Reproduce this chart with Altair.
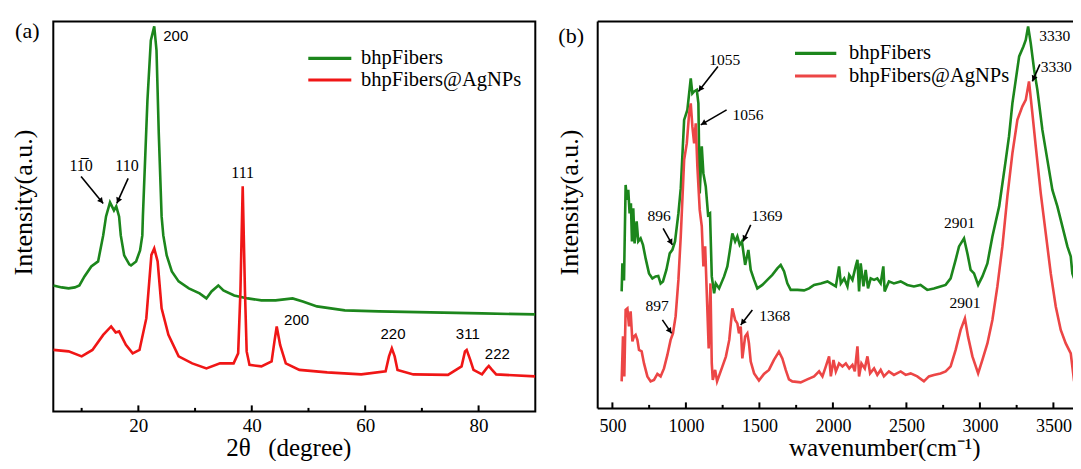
import math
import altair as alt
import pandas as pd

# ---------------- Panel (a): XRD ----------------
xrd_green_2theta = [5, 6.5, 7.7, 8.8, 9.6, 10.5, 11.7, 12.9, 13.8, 14.3, 15.0, 15.7, 16.1, 16.6, 16.9, 17.5,
                    18.4, 18.7, 19.6, 20.3, 20.7, 20.8, 21.6, 22.2, 22.8, 23.2, 23.6, 24.1, 24.4, 25.0, 25.9,
                    27.1, 28.9, 30.8, 32.0, 32.9, 34.1, 35.0, 36.9, 39.3, 41.7, 44.2, 47.2, 49.0, 51.5, 56.4,
                    62.4, 71.5, 80.6, 90]
xrd_green_int = [126, 124, 123, 124, 126, 135, 145, 150, 176, 195, 209, 201, 205, 195, 176, 156,
                 147, 146, 150, 161, 176, 195, 311, 371, 385, 361, 278, 195, 176, 156, 140,
                 130, 123, 118, 113, 120, 126, 121, 116, 113, 111, 111, 113, 110, 105, 101,
                 100, 99, 98, 97]
xrd_red_2theta = [5, 7.7, 10.0, 11.9, 13.8, 15.2, 16.0, 16.6, 17.8, 19.0, 20.2, 21.4, 22.3, 22.8, 23.4,
                  24.1, 25.3, 27.1, 29.5, 32.0, 34.4, 36.8, 37.6, 38.0, 38.4, 38.8, 39.1, 39.6, 41.7,
                  43.5, 44.0, 44.4, 45.0, 46.0, 48.4, 53.3, 59.3, 63.6, 64.2, 64.7, 65.2, 65.7, 68.5,
                  74.6, 77.0, 77.6, 77.9, 78.5, 79.1, 80.6, 81.4, 81.8, 82.3, 83.1, 90]
xrd_red_int = [61.5, 60, 55, 61.5, 76.5, 85, 79, 80, 66.5, 58, 61.5, 93, 156.5, 163, 150,
               103, 76.5, 55, 48, 43, 48, 48, 58, 120, 225, 120, 60, 46.5, 45,
               50, 70, 85, 66.5, 48, 41.5, 39, 37, 40, 55, 63, 55, 41.5, 37,
               36.5, 45, 60, 61.5, 52, 41.5, 37, 43, 45.5, 42, 37, 35]
xrd_major_ticks = [20, 40, 60, 80]
xrd_minor_ticks = [10, 30, 50, 70]
xrd_serif_labels = ["11\u03050", "110", "111"]
xrd_serif_x = [9.9, 18.0, 38.4]
xrd_serif_y = [245, 245, 238.5]
xrd_sans_labels = ["200", "200", "220", "311", "222"]
xrd_sans_x = [26.6, 47.9, 64.9, 78.1, 83.3]
xrd_sans_y = [375.5, 91.5, 77.5, 77.5, 57]
xrd_arrow_x1 = [9.9, 18.2]
xrd_arrow_y1 = [235, 233]
xrd_arrow_x2 = [13.8, 16.2]
xrd_arrow_y2 = [208, 208]

# ---------------- Panel (b): FTIR ----------------
ftir_green_wn = [563, 568, 579, 590, 599, 608, 617, 626, 633, 642, 651, 665, 676, 692, 708, 726, 749, 772, 794,
                 812, 828, 844, 867, 890, 908, 926, 949, 965, 988, 1010, 1033, 1044, 1056, 1074, 1085, 1094,
                 1108, 1119, 1135, 1151, 1164, 1176, 1192, 1203, 1226, 1260, 1282, 1298, 1316, 1335, 1350,
                 1366, 1381, 1403, 1425, 1441, 1464, 1486, 1520, 1554, 1588, 1622, 1645, 1668, 1690, 1713,
                 1759, 1804, 1838, 1872, 1918, 1963, 1997, 2020, 2042, 2054, 2077, 2099, 2111, 2133, 2155,
                 2167, 2178, 2189, 2208, 2223, 2239, 2257, 2280, 2302, 2325, 2343, 2352, 2381, 2415, 2461,
                 2506, 2551, 2596, 2642, 2687, 2732, 2767, 2801, 2835, 2858, 2892, 2915, 2937, 2960, 2988,
                 3017, 3051, 3085, 3131, 3176, 3198, 3221, 3244, 3267, 3296, 3312, 3328, 3346, 3369, 3391,
                 3425, 3459, 3493, 3527, 3561, 3595, 3618, 3629, 3652, 3670, 3720, 3800, 3900, 3990]
ftir_green_int = [117, 145, 128, 223.5, 208.5, 218.5, 195, 205, 167, 200, 165, 187, 167, 170, 163.5, 150, 135, 130, 132,
                  132.5, 125, 127, 138.5, 155, 158.5, 167, 195, 220, 288.5, 298.5, 330, 315, 317, 318.5, 305, 215,
                  262, 235, 222, 193.5, 195, 132, 115, 125, 120, 132, 142, 157, 175, 167, 172,
                  163.5, 167, 143.5, 158.5, 138.5, 128.5, 120, 123.5, 128.5, 133.5, 140, 143.5, 137, 125, 118.5,
                  118.5, 118, 120, 123.5, 125, 127, 124, 122, 142, 125, 130, 122, 133.5, 128.5, 142,
                  148.5, 117, 145, 122, 138.5, 120, 130, 128.5, 130, 125, 142, 117, 127, 125, 127,
                  123.5, 122, 123.5, 118.5, 120, 122, 123.5, 130, 148.5, 162, 170, 155, 138.5, 135, 123.5,
                  132, 145, 172, 202, 248.5, 272, 305, 328.5, 352, 362, 368.5, 382, 365, 338.5, 318.5,
                  278.5, 248.5, 218.5, 202, 182, 162, 152, 135, 125, 115, 106, 100, 97, 95]
ftir_red_wn = [563, 572, 581, 590, 602, 613, 624, 636, 647, 658, 670, 681, 699, 715, 738, 760, 783, 806, 828,
               851, 874, 896, 912, 930, 949, 965, 981, 988, 1006, 1022, 1033, 1044, 1056, 1067, 1078, 1094,
               1108, 1119, 1131, 1146, 1155, 1167, 1176, 1183, 1199, 1212, 1248, 1272, 1295, 1316, 1335,
               1350, 1361, 1373, 1384, 1403, 1418, 1429, 1441, 1464, 1497, 1531, 1565, 1599, 1633, 1656,
               1679, 1701, 1724, 1781, 1826, 1872, 1906, 1929, 1952, 1974, 1986, 2004, 2020, 2042, 2065,
               2088, 2111, 2133, 2149, 2167, 2178, 2194, 2217, 2235, 2253, 2280, 2302, 2325, 2347, 2381,
               2415, 2461, 2495, 2529, 2574, 2619, 2653, 2687, 2732, 2767, 2801, 2835, 2869, 2898, 2919,
               2949, 2988, 3017, 3051, 3085, 3119, 3153, 3187, 3221, 3255, 3289, 3312, 3334, 3357, 3380,
               3414, 3448, 3482, 3516, 3550, 3584, 3618, 3641, 3659, 3700, 3800, 3990]
ftir_red_int = [27, 72, 32, 98.5, 100, 82, 97, 67, 72, 73.5, 68.5, 58.5, 57, 45, 32, 27, 28.5, 34.5, 32,
                40, 53.5, 68.5, 75, 92, 128.5, 172, 225, 248.5, 265, 295, 305, 282, 265, 285, 242, 198.5,
                182, 142, 162, 98.5, 60, 125, 45, 28.5, 38.5, 27, 41.8, 51.8, 68.5, 100, 88.5,
                85, 75, 81.8, 50, 71.8, 75, 65, 46.8, 35, 27.8, 34.5, 38.5, 48.5, 56.8, 50,
                38.5, 29, 27, 26, 29, 32, 37, 32, 42, 52, 32, 48.5, 37, 45, 42,
                45, 40, 43.5, 37, 62, 32, 45, 40, 52, 35, 40, 33.5, 38.5, 32, 37,
                33.5, 37, 33.5, 35, 32, 27, 32, 33.5, 35, 37, 42, 58.5, 78.5, 90, 72,
                52, 35, 48.5, 65, 88.5, 122, 162, 212, 255, 288.5, 302, 308.5, 327, 295, 262,
                215, 175, 135, 102, 78.5, 65, 55, 27, 35, 30, 28, 27]
ftir_major_ticks = [500, 1000, 1500, 2000, 2500, 3000, 3500]
ftir_minor_ticks = [750, 1250, 1750, 2250, 2750, 3250]
ftir_labels = ["1055", "1056", "896", "1369", "897", "1368", "2901", "2901", "3330", "3330"]
ftir_label_x = [1265, 1422, 818, 1552, 804, 1605, 2861, 2898, 3510, 3520]
ftir_label_y = [348.5, 293.5, 192, 192, 102, 92, 185, 105, 372, 341]
ftir_arrow_x1 = [1218, 1277, 845, 1441, 840, 1452, 3408]
ftir_arrow_y1 = [342, 298.5, 180, 183.5, 88.5, 98.5, 344]
ftir_arrow_x2 = [1085, 1101, 908, 1389, 903, 1373, 3357]
ftir_arrow_y2 = [317, 283.5, 163.5, 167, 75, 83.5, 327]

series_names = ["bhpFibers", "bhpFibers@AgNPs"]

SERIF = "Liberation Serif"
SANS = "Liberation Sans"
GREEN = "#1c861c"


def panel(gx, gy, rx, ry, red, xdom, ydom, W, H, major, minor, xtitle, tx, ty, lab_pad, lab_size, ytx,
          serif_lab, sans_lab, arrows, leg, tag, tagpos, full_frame):
    sx = W / (xdom[1] - xdom[0])
    sy = H / (ydom[1] - ydom[0])
    xs = alt.Scale(domain=xdom, nice=False, zero=False)
    ys = alt.Scale(domain=ydom, nice=False, zero=False)
    xax = alt.Axis(values=major, format="d", title=xtitle, ticks=False, domain=False, grid=False,
                   labelFont=SERIF, labelFontSize=lab_size, labelColor="black", labelPadding=lab_pad,
                   titleFont=SERIF, titleFontSize=25, titleFontWeight="normal", titleColor="black",
                   titleX=tx, titleY=ty, titleAlign="center", titleBaseline="alphabetic")
    yax = alt.Axis(labels=False, ticks=False, domain=False, grid=False, title="Intensity(a.u.)",
                   titleFont=SERIF, titleFontSize=26, titleFontWeight="normal", titleColor="black",
                   titleAngle=270, titleX=ytx, titleY=180.6, titleAlign="center", titleBaseline="middle")

    def X(f="x"):
        return alt.X(f + ":Q", scale=xs, axis=xax, title=xtitle)

    def Y(f="y"):
        return alt.Y(f + ":Q", scale=ys, axis=yax, title="Intensity(a.u.)")

    dg = pd.DataFrame({"x": gx, "y": gy})
    dr = pd.DataFrame({"x": rx, "y": ry})
    g = alt.Chart(dg).mark_line(color=GREEN, strokeWidth=2.6, clip=True).encode(x=X(), y=Y())
    r = alt.Chart(dr).mark_line(color=red, strokeWidth=2.6, clip=True).encode(x=X(), y=Y())
    tick_major = alt.Chart(pd.DataFrame({"x": major})).mark_rule(color="black", strokeWidth=2).encode(
        x=X(), y=alt.value(H), y2=alt.value(H - 6))
    tick_minor = alt.Chart(pd.DataFrame({"x": minor})).mark_rule(color="black", strokeWidth=2).encode(
        x=X(), y=alt.value(H), y2=alt.value(H - 3.5))
    layers = [g, r, tick_major, tick_minor]
    for labs, font, size in [(serif_lab, SERIF, 16 if tag == "(a)" else 15.5), (sans_lab, SANS, 15)]:
        if labs is None:
            continue
        d = pd.DataFrame({"t": labs[0], "x": labs[1], "y": labs[2]})
        layers.append(alt.Chart(d).mark_text(font=font, fontSize=size, color="black", baseline="middle",
                                             clip=True).encode(x=X(), y=Y(), text="t:N"))
    x1, y1, x2, y2 = arrows
    hx, hy, ang = [], [], []
    for a, b, c, e in zip(x1, y1, x2, y2):
        dx = (c - a) * sx
        dy = -(e - b) * sy
        L = math.hypot(dx, dy)
        ux, uy = dx / L, dy / L
        hx.append(c - ux * 3.0 / sx)
        hy.append(e + uy * 3.0 / sy)
        ang.append(math.degrees(math.atan2(ux, -uy)) % 360)
    da = pd.DataFrame({"x": x1, "y": y1, "x2": x2, "y2": y2})
    layers.append(alt.Chart(da).mark_rule(color="black", strokeWidth=1.6).encode(
        x=X(), y=Y(), x2="x2:Q", y2="y2:Q"))
    dh = pd.DataFrame({"x": hx, "y": hy, "a": ang})
    layers.append(alt.Chart(dh).mark_point(shape="triangle-up", filled=True, color="black", size=40,
                                           opacity=1).encode(
        x=X(), y=Y(), angle=alt.Angle("a:Q", scale=None)))
    # legend
    lx1, lx2, ly1, ly2, ltx = leg
    for name, col, yy in [(series_names[0], GREEN, ly1), (series_names[1], red, ly2)]:
        dl = pd.DataFrame({"n": [name]})
        layers.append(alt.Chart(dl).mark_rule(color=col, strokeWidth=3.2).encode(
            x=alt.value(lx1), x2=alt.value(lx2), y=alt.value(yy)))
        layers.append(alt.Chart(dl).mark_text(font=SERIF, fontSize=20.5, color="black", align="left",
                                              baseline="middle").encode(
            x=alt.value(ltx), y=alt.value(yy), text="n:N"))
    layers.append(alt.Chart(pd.DataFrame({"n": [tag]})).mark_text(
        font=SERIF, fontSize=22, color="black", baseline="middle").encode(
        x=alt.value(tagpos[0]), y=alt.value(tagpos[1]), text="n:N"))
    if not full_frame:
        one = pd.DataFrame({"n": [0]})
        layers.append(alt.Chart(one).mark_rule(color="black", strokeWidth=2).encode(
            x=alt.value(0), x2=alt.value(W), y=alt.value(0)))
        layers.append(alt.Chart(one).mark_rule(color="black", strokeWidth=2).encode(
            x=alt.value(0), x2=alt.value(W), y=alt.value(H)))
        layers.append(alt.Chart(one).mark_rule(color="black", strokeWidth=2).encode(
            x=alt.value(0), y=alt.value(0), y2=alt.value(H)))
        return alt.layer(*layers).properties(width=W, height=H,
                                             view=alt.ViewBackground(stroke="transparent"))
    return alt.layer(*layers).properties(width=W, height=H)


pa = panel(xrd_green_2theta, xrd_green_int, xrd_red_2theta, xrd_red_int, "#f01616",
           [5, 90], [0, 390], 482, 390, xrd_major_ticks, xrd_minor_ticks,
           "2\u03b8\u2002\u2009(degree)", 235, 44.5, 5, 19, -30,
           (xrd_serif_labels, xrd_serif_x, xrd_serif_y),
           (xrd_sans_labels, xrd_sans_x, xrd_sans_y),
           (xrd_arrow_x1, xrd_arrow_y1, xrd_arrow_x2, xrd_arrow_y2),
           (255, 298, 37, 58.6, 307.7), "(a)", (-26, 9.5), True)

WB = 477
pb = panel(ftir_green_wn, ftir_green_int, ftir_red_wn, ftir_red_int, "#ec4646",
           [400, 400 + WB / 0.147], [0, 387], WB, 387, ftir_major_ticks, ftir_minor_ticks,
           "wavenumber(cm\u207b\u00b9)", 286.6, 47.5, 9, 18, -28,
           (ftir_labels, ftir_label_x, ftir_label_y), None,
           (ftir_arrow_x1, ftir_arrow_y1, ftir_arrow_x2, ftir_arrow_y2),
           (197.3, 238.6, 31.9, 54.6, 251.3), "(b)", (-26.5, 14.5), False)

PAD_L, PAD_T = 45.3, 13.4
chart = alt.hconcat(pa, pb, spacing=19.4).properties(
    autosize=alt.AutoSizeParams(type="none"),
    padding={"left": PAD_L, "top": PAD_T, "right": 1065 - PAD_L, "bottom": 453 - PAD_T}
).configure(background="white").configure_view(stroke="black", strokeWidth=2)

chart.save("out.html", embed_options={"renderer": "svg", "actions": False})
